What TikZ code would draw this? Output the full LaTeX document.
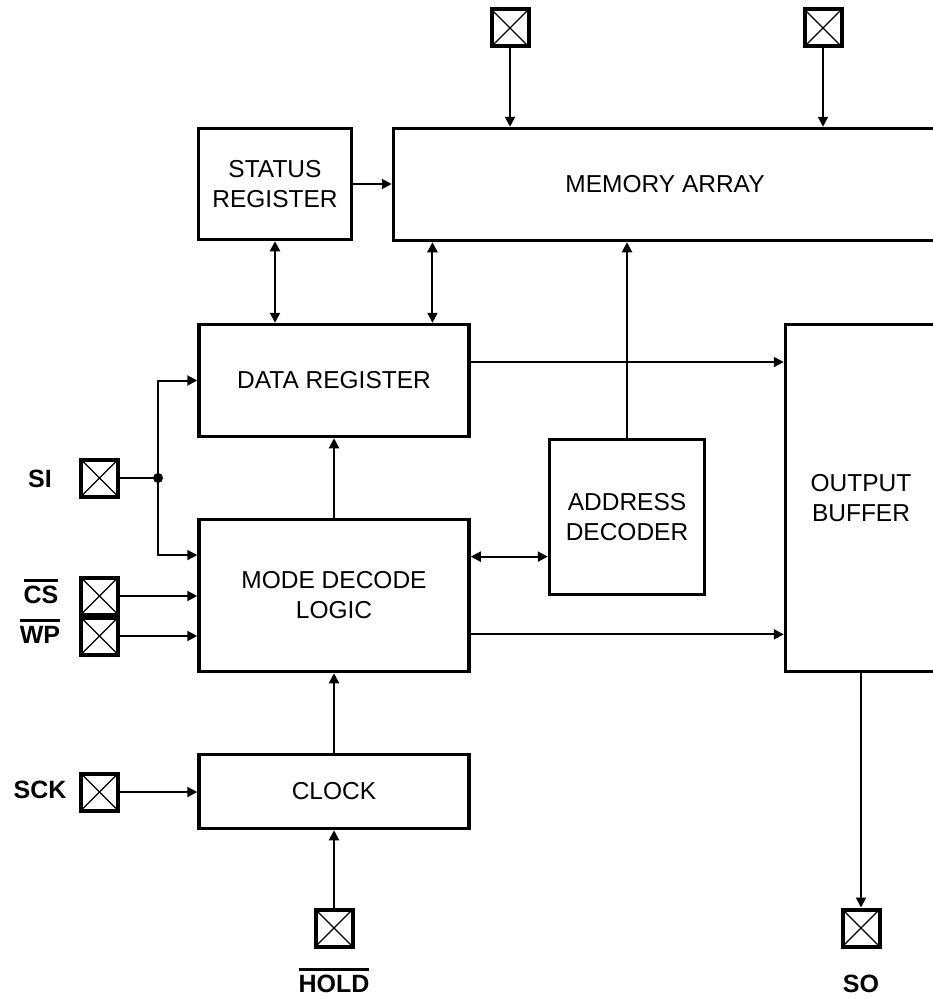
\documentclass[tikz,border=0pt]{standalone}
\usepackage{fontspec}
\setmainfont{Liberation Sans}
\usetikzlibrary{calc,arrows.meta}
\newcommand{\pinbar}[1]{\vbox{\hrule height 2.5pt\kern 4pt\hbox{#1}}}

\begin{document}
\begin{tikzpicture}[x=1pt,y=-1pt,line width=2pt,>={Triangle[length=10pt,width=10pt]},
	blk/.style={draw,line width=3.5pt,inner sep=0pt,align=center,font=\fontsize{24.5}{30}\selectfont},
	padbox/.style={draw,line width=4pt,minimum size=37pt,inner sep=0pt,
		path picture={\draw[line width=1.2pt] (path picture bounding box.north west)--(path picture bounding box.south east)
			(path picture bounding box.south west)--(path picture bounding box.north east);}},
	lbl/.style={anchor=base,inner sep=0pt,font=\fontsize{25}{30}\selectfont\bfseries}]
\useasboundingbox (0,0) rectangle (933,998);

\node[blk,minimum width=153pt,minimum height=111pt] (status) at (275,184) {STATUS\\REGISTER};
\node[blk,minimum width=543pt,minimum height=112pt] (memory) at (665,184.5) {MEMORY ARRAY};
\node[blk,minimum width=270pt,minimum height=112pt] (datareg) at (334,380.5) {DATA REGISTER};
\node[blk,minimum width=270pt,minimum height=152pt] (mode) at (334,595.5) {MODE DECODE\\LOGIC};
\node[blk,minimum width=270pt,minimum height=74pt] (clock) at (334,791.5) {CLOCK};
\node[blk,minimum width=155pt,minimum height=155pt] (addrdec) at (627,517) {ADDRESS\\DECODER};
\node[blk,minimum width=151pt,minimum height=347pt] (outbuf) at (861,498) {OUTPUT\\BUFFER};

\node[padbox] (padA) at (510,28) {};
\node[padbox] (padB) at (823,28) {};
\node[padbox] (si) at (99.5,478) {};
\node[padbox] (cs) at (99.5,596) {};
\node[padbox] (wp) at (99.5,636) {};
\node[padbox] (sck) at (99.5,792) {};
\node[padbox] (hold) at (334,928) {};
\node[padbox] (so) at (861,928) {};

\node[lbl] (lblsi) at (40,487) {SI};
\node[lbl] (lblcs) at (41,603) {\pinbar{CS}};
\node[lbl] (lblwp) at (40,643) {\pinbar{WP}};
\node[lbl] (lblsck) at (40,798) {SCK};
\node[lbl] (lblhold) at (334,992) {\pinbar{HOLD}};
\node[lbl] (lblso) at (861,992) {SO};

\coordinate (sij) at (158,478);
\coordinate (m1) at ($(datareg.north west)!0.86!(datareg.north east)$);
\coordinate (d1) at ($(datareg.north east)!0.34!(datareg.south east)$);
\coordinate (e1) at ($(mode.north west)!0.24!(mode.south west)$);
\coordinate (e2) at ($(mode.north east)!0.25!(mode.south east)$);
\coordinate (e3) at ($(mode.north east)!0.75!(mode.south east)$);

\draw[->] (padA.south)--(padA.south |- memory.north);
\draw[->] (padB.south)--(padB.south |- memory.north);
\draw[->] (status.east)--(status.east -| memory.west);
\draw[<->] (status.south)--(status.south |- datareg.north);
\draw[<->] (m1 |- memory.south)--(m1);
\draw[->] (addrdec.north)--(addrdec.north |- memory.south);
\draw[->] (d1)--(d1 -| outbuf.west);
\draw (si.east)--(sij);
\fill (sij) circle (5pt);
\draw[->] (sij) |- (datareg.west);
\draw[->] (sij) |- (e1);
\draw[->] (cs.east)--(cs.east -| mode.west);
\draw[->] (wp.east)--(wp.east -| mode.west);
\draw[->] (mode.north)--(datareg.south);
\draw[<->] (e2)--(e2 -| addrdec.west);
\draw[->] (e3)--(e3 -| outbuf.west);
\draw[->] (clock.north)--(mode.south);
\draw[->] (sck.east)--(sck.east -| clock.west);
\draw[->] (hold.north)--(hold.north |- clock.south);
\draw[->] (outbuf.south)--(so.north);

\end{tikzpicture}
\end{document}
